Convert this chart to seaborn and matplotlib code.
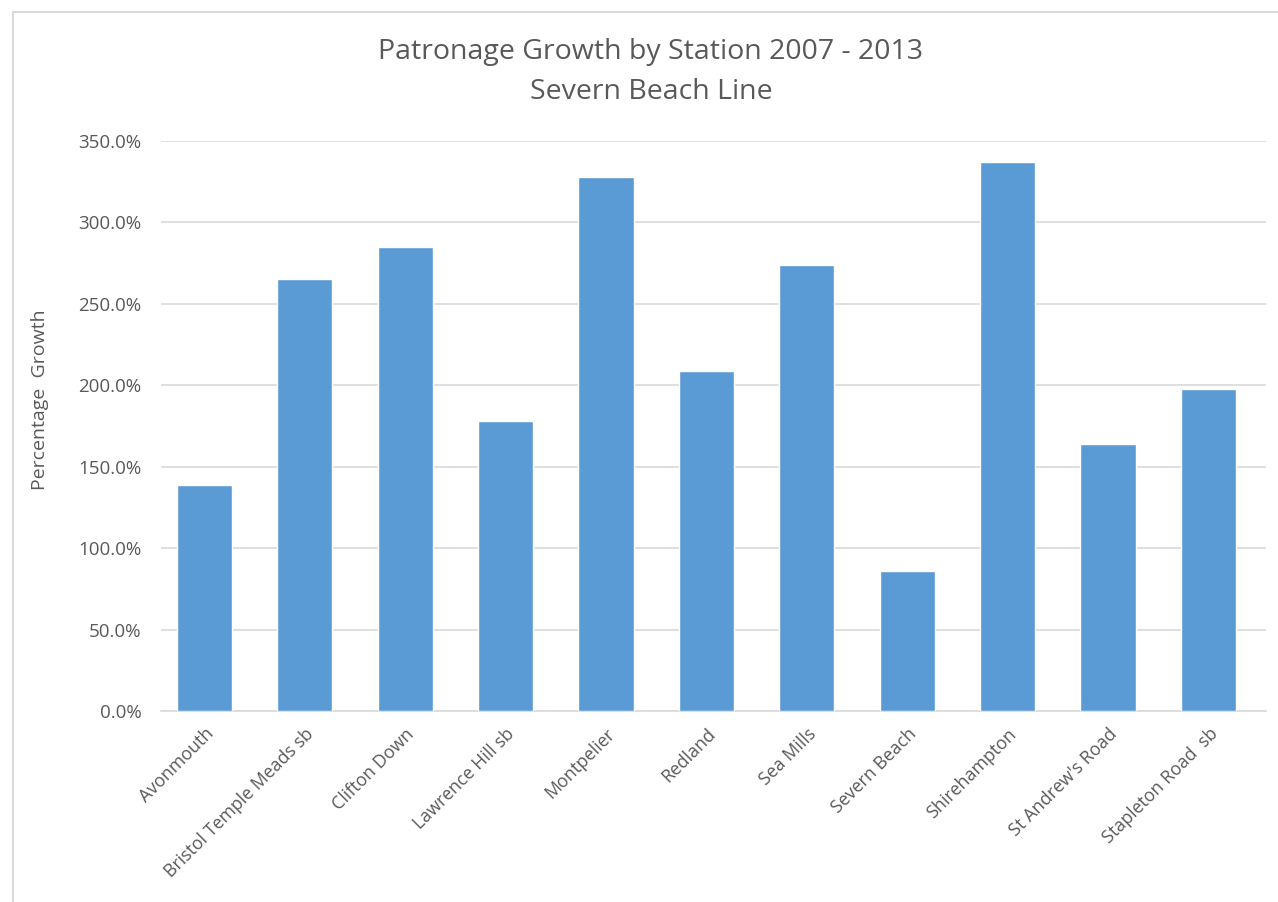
import matplotlib
matplotlib.use("Agg")
import matplotlib.pyplot as plt
import seaborn as sns
import pandas as pd
from matplotlib.patches import Rectangle
from matplotlib.ticker import FuncFormatter, MultipleLocator

stations = ["Avonmouth", "Bristol Temple Meads sb", "Clifton Down", "Lawrence Hill sb",
            "Montpelier", "Redland", "Sea Mills", "Severn Beach", "Shirehampton",
            "St Andrew's Road", "Stapleton Road  sb"]
growth = [138.8, 265.3, 284.9, 178.1, 327.9, 208.8, 273.9, 86.0, 337.1, 164.0, 197.7]

df = pd.DataFrame({"Station": stations, "Growth": growth})

sns.set_theme(style="white")
plt.rcParams['font.family'] = ['Open Sans', 'DejaVu Sans']
TXT = "#595959"

fig = plt.figure(figsize=(12.78, 9.02), dpi=100)
ax = fig.add_axes([161/1278, 1-711/902, (1266-161)/1278, (711-141)/902])

sns.barplot(data=df, x="Station", y="Growth", color="#5B9BD5", width=0.55,
            saturation=1, ax=ax, zorder=3)

ax.set_xlim(-0.433, 10.573)
ax.set_ylim(0, 350)
ax.yaxis.set_major_locator(MultipleLocator(50))
ax.yaxis.set_major_formatter(FuncFormatter(lambda v, p: f"{v:.1f}%"))
ax.grid(axis="y", color="#D9D9D9", linewidth=1.2, zorder=0)
ax.set_axisbelow(True)
for s in ["top", "right", "left"]:
    ax.spines[s].set_visible(False)
ax.spines["bottom"].set_color("#D9D9D9")
ax.spines["bottom"].set_linewidth(1.2)
ax.tick_params(axis="both", length=0, colors=TXT)
ax.tick_params(axis="y", pad=14, labelsize=13.5)
ax.set_xticks(range(len(stations)))
ax.set_xticklabels(stations, rotation=45, ha="right", rotation_mode="anchor", color=TXT,
                   fontsize=12.8)
ax.tick_params(axis="x", pad=10)
ax.set_xlabel("")
ax.set_ylabel("")
fig.text(40/1278, 1-400/902, "Percentage  Growth", rotation=90, ha="center", va="center",
         color=TXT, fontsize=14)

fig.text(651/1278, 1-52/902, "Patronage Growth by Station 2007 - 2013", ha="center", va="center",
         fontsize=20.5, color=TXT)
fig.text(651/1278, 1-92/902, "Severn Beach Line", ha="center", va="center",
         fontsize=20.5, color=TXT)

fig.patches.append(Rectangle((13/1278, -0.01), 1.0, 1-12/902+0.01, transform=fig.transFigure,
                             fill=False, edgecolor="#D9D9D9", linewidth=1.5))

fig.savefig("out.png", dpi=100)
